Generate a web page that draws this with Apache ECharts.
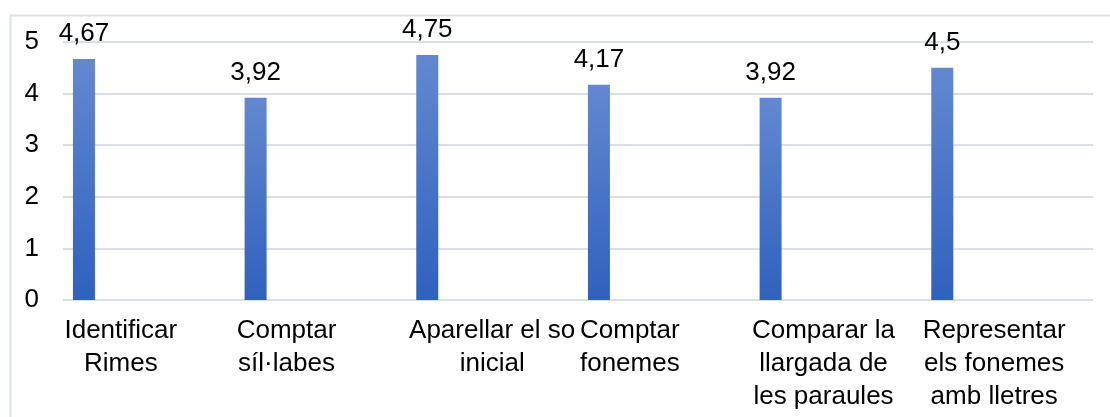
<!DOCTYPE html>
<html>
<head>
<meta charset="utf-8">
<script src="https://cdn.jsdelivr.net/npm/echarts@6/dist/echarts.min.js"></script>
<style>
html,body{margin:0;padding:0;background:#fff;}
#chart{width:1110px;height:417px;}
</style>
</head>
<body>
<div id="chart"></div>
<script>
const categories = [
  "Identificar\nRimes",
  "Comptar\nsíl·labes",
  "Aparellar el so\ninicial",
  "Comptar\nfonemes",
  "Comparar la\nllargada de\nles paraules",
  "Representar\nels fonemes\namb lletres"
];
const values = [4.67, 3.92, 4.75, 4.17, 3.92, 4.5];
const emptyValues = ['-', '-', '-', '-', '-', '-'];
const yTicks = { min: 0, max: 5, interval: 1 };

// label horizontal shift (px, negative = left) to mimic the reference placement
const labelShift = [-28, -34, 0, -34, -12, -13];

const FONT = '"Liberation Sans", Arial, sans-serif';

const chart = echarts.init(document.getElementById('chart'), null, { renderer: 'canvas' });

const xData = categories.map((c, i) => {
  const s = labelShift[i];
  return {
    value: c,
    textStyle: { padding: s < 0 ? [0, -2 * s, 0, 0] : [0, 0, 0, 2 * s] }
  };
});

const barColor = new echarts.graphic.LinearGradient(0, 0, 0, 1, [
  { offset: 0, color: '#6388d0' },
  { offset: 1, color: '#2f61be' }
]);

chart.setOption({
  animation: false,
  backgroundColor: '#fff',
  textStyle: { fontFamily: FONT },
  graphic: [{
    type: 'rect',
    left: 8, top: 13,
    shape: { width: 1120, height: 430 },
    style: { fill: 'none', stroke: '#dde2ea', lineWidth: 2 },
    silent: true,
    z: -10
  }],
  grid: { left: 63, right: 17, top: 42, bottom: 117, containLabel: false },
  xAxis: {
    type: 'category',
    data: xData,
    axisLine: { show: false },
    axisTick: { show: false },
    axisLabel: {
      interval: 0,
      margin: 14,
      fontSize: 26,
      lineHeight: 33,
      color: '#000',
      fontFamily: FONT,
      align: 'center'
    },
    splitLine: { show: false }
  },
  yAxis: {
    type: 'value',
    min: yTicks.min,
    max: yTicks.max,
    interval: yTicks.interval,
    axisLine: { show: false },
    axisTick: { show: false },
    axisLabel: { fontSize: 26, color: '#000', margin: 24, fontFamily: FONT },
    splitLine: { lineStyle: { color: '#dadee6', width: 2 } }
  },
  series: [
    {
      type: 'bar',
      data: values,
      barWidth: 22,
      barGap: '195%',
      itemStyle: { color: barColor },
      label: {
        show: true,
        position: 'top',
        distance: 12,
        fontSize: 26,
        color: '#000',
        fontFamily: FONT,
        formatter: p => String(p.value).replace('.', ',')
      }
    },
    { type: 'bar', data: emptyValues, barWidth: 22, barGap: '195%' },
    { type: 'bar', data: emptyValues, barWidth: 22, barGap: '195%' }
  ]
});
</script>
</body>
</html>
